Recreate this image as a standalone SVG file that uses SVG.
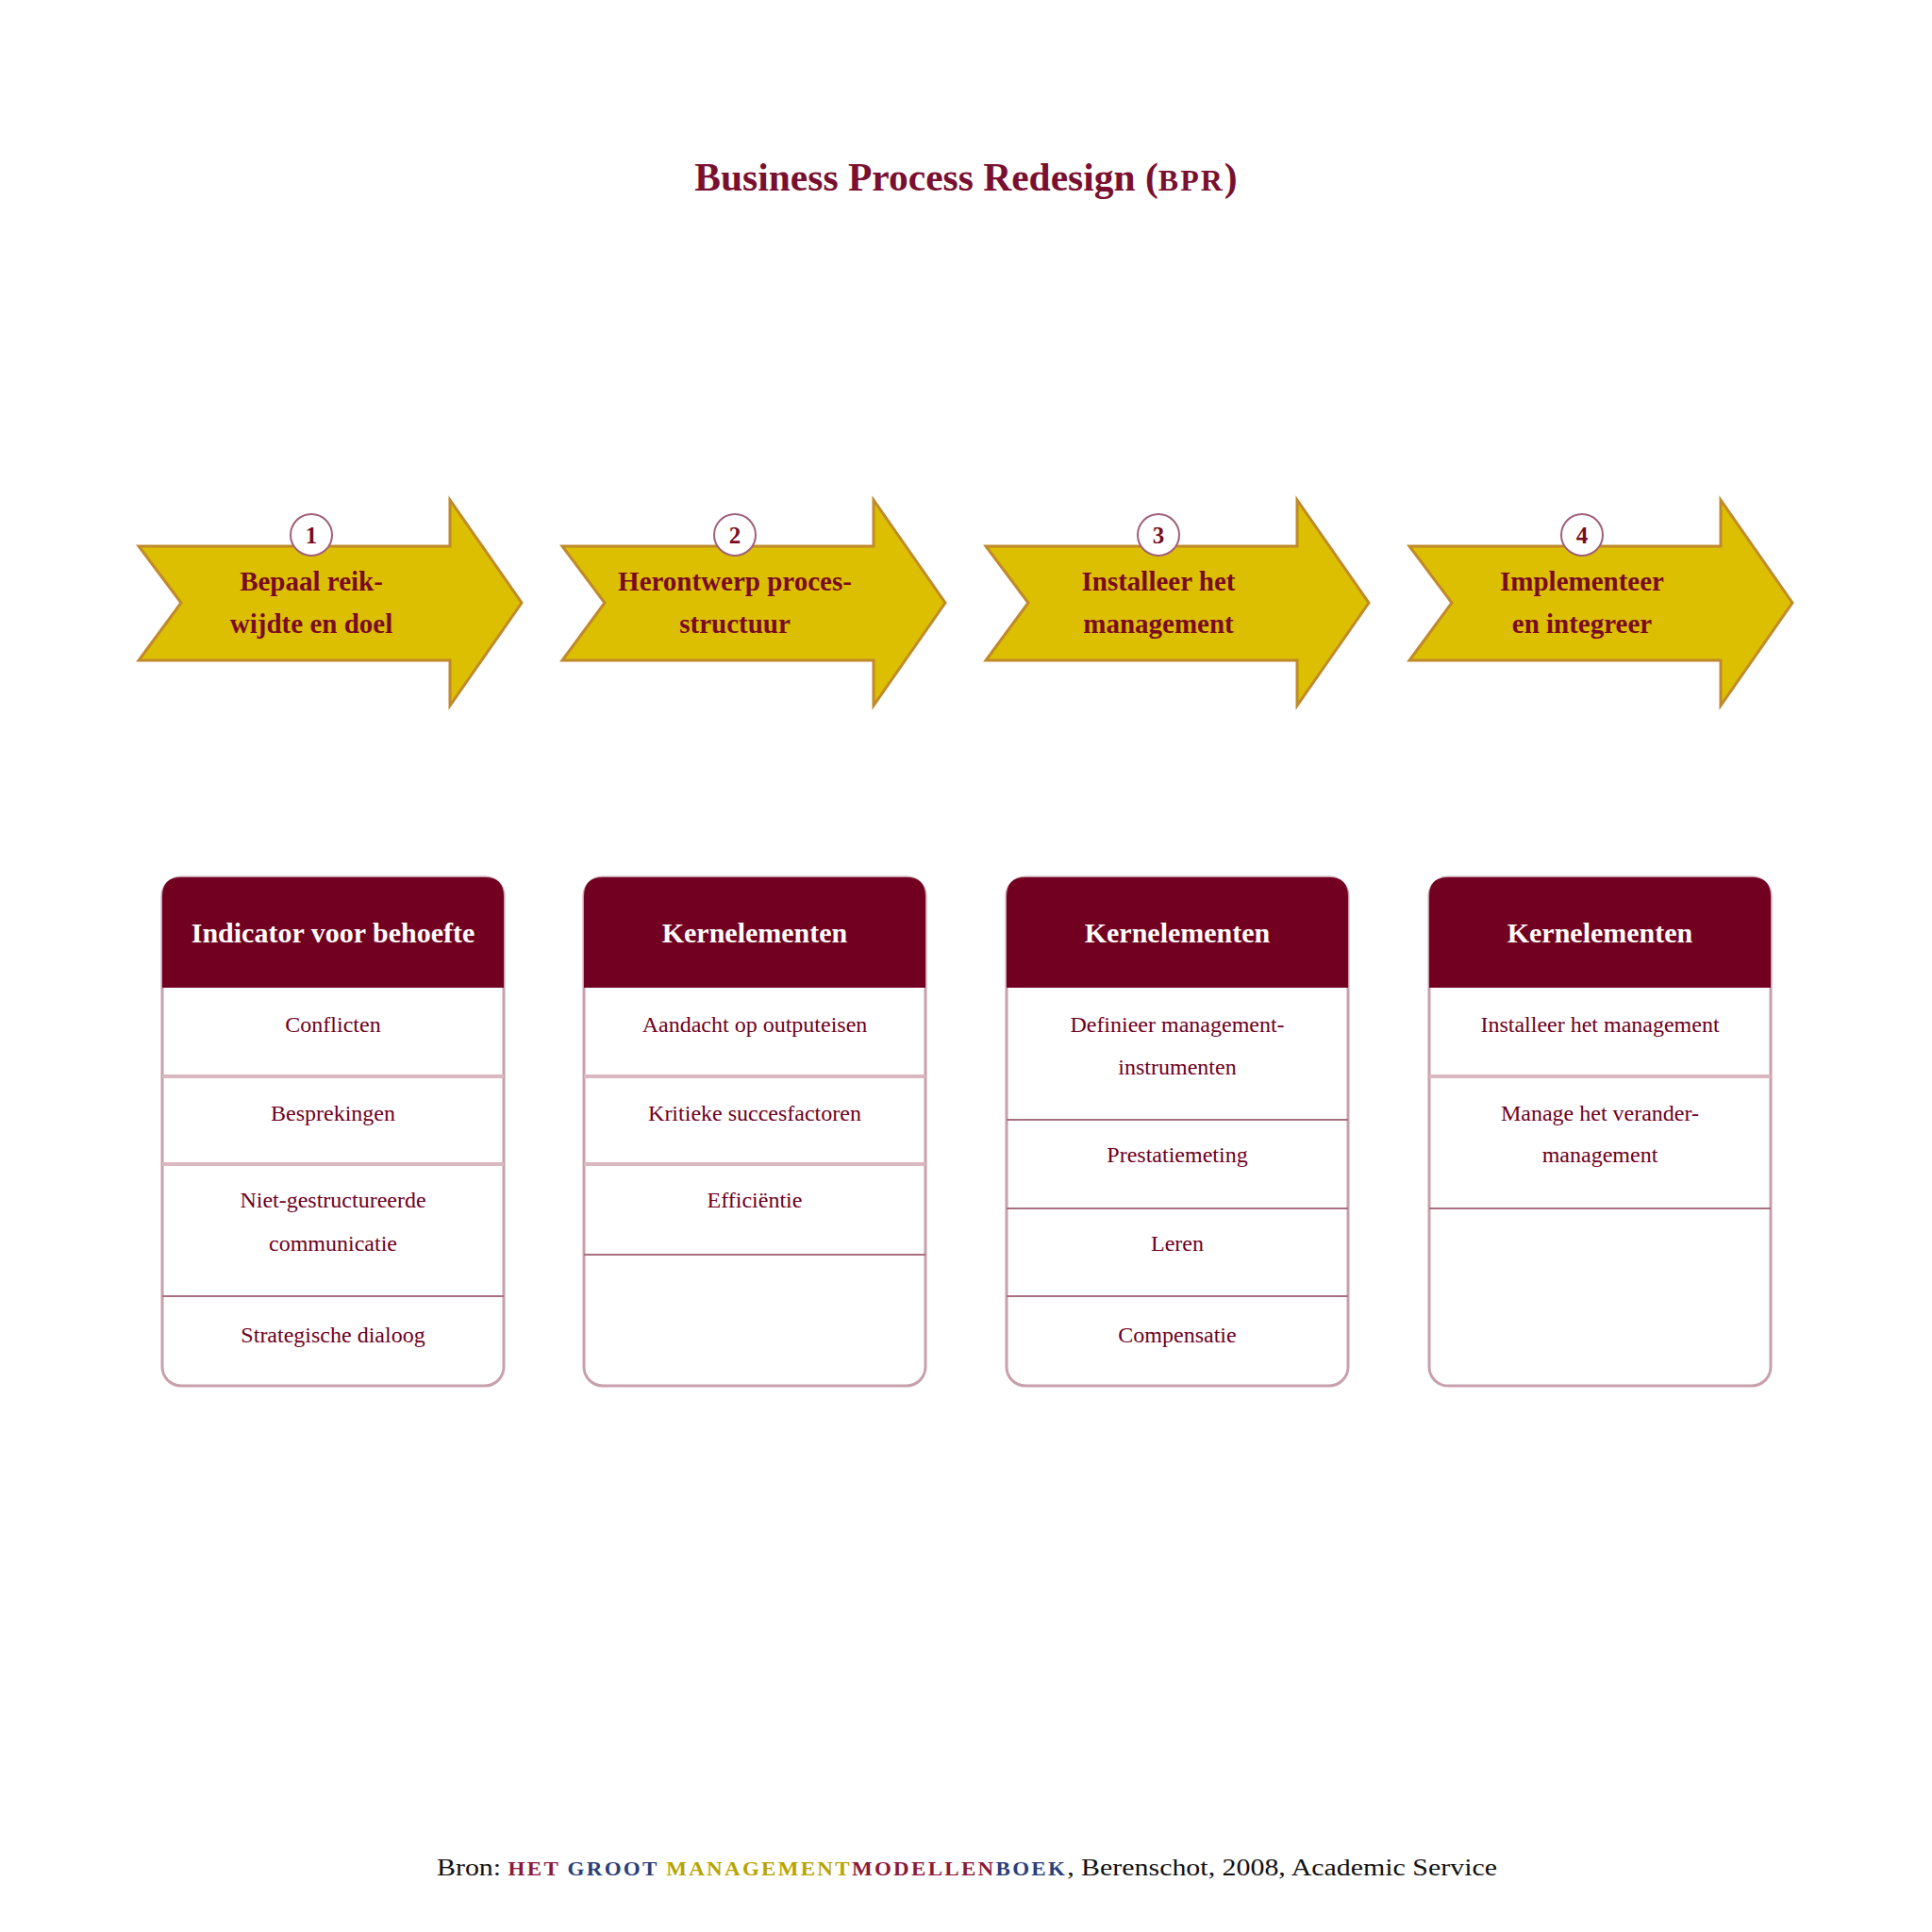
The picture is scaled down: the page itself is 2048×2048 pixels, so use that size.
<svg xmlns="http://www.w3.org/2000/svg" width="2048" height="2048" viewBox="0 0 2048 2048">
<style>
.title{font-family:"Liberation Serif",serif;font-weight:bold;font-size:41.5px;fill:#7a1030}
.arrow{fill:#dcbf00;stroke:#c08a2a;stroke-width:3;stroke-linejoin:miter}
.num-c{fill:#ffffff;stroke:#a0607a;stroke-width:2}
.num{font-family:"Liberation Serif",serif;font-weight:bold;font-size:25px;fill:#7a0a20;text-anchor:middle}
.atxt{font-family:"Liberation Serif",serif;font-weight:bold;font-size:29px;fill:#7a0a20;text-anchor:middle}
.card{fill:#ffffff;stroke:#c8a0ab;stroke-width:3}
.head{fill:#720020}
.htxt{font-family:"Liberation Serif",serif;font-weight:bold;font-size:30px;fill:#ffffff;text-anchor:middle}
.rtxt{font-family:"Liberation Serif",serif;font-size:24px;fill:#6e0020;text-anchor:middle}
.div-l{stroke:#d9b8c1;stroke-width:4}
.div-d{stroke:#a8707f;stroke-width:2}
.foot{font-family:"Liberation Serif",serif;font-size:26px;fill:#111111}
.sc{font-size:20px;letter-spacing:2px;font-weight:bold}
</style>
<rect width="2048" height="2048" fill="#ffffff"/>
<text class="title" x="1024" y="202" text-anchor="middle">Business Process Redesign (<tspan font-size="32" letter-spacing="2">BPR</tspan>)</text>

<g id="step1">
<path class="arrow" d="M147,579 L477,579 L477,530 L553,639 L477,748 L477,700 L147,700 L192,639 Z"/>
<circle class="num-c" cx="330" cy="567" r="22"/>
<text class="num" x="330" y="576">1</text>
<text class="atxt" x="330" y="626">Bepaal reik-</text>
<text class="atxt" x="330" y="671">wijdte en doel</text>
</g>
<g id="step2" transform="translate(449,0)">
<path class="arrow" d="M147,579 L477,579 L477,530 L553,639 L477,748 L477,700 L147,700 L192,639 Z"/>
<circle class="num-c" cx="330" cy="567" r="22"/>
<text class="num" x="330" y="576">2</text>
<text class="atxt" x="330" y="626">Herontwerp proces-</text>
<text class="atxt" x="330" y="671">structuur</text>
</g>
<g id="step3" transform="translate(898,0)">
<path class="arrow" d="M147,579 L477,579 L477,530 L553,639 L477,748 L477,700 L147,700 L192,639 Z"/>
<circle class="num-c" cx="330" cy="567" r="22"/>
<text class="num" x="330" y="576">3</text>
<text class="atxt" x="330" y="626">Installeer het</text>
<text class="atxt" x="330" y="671">management</text>
</g>
<g id="step4" transform="translate(1347,0)">
<path class="arrow" d="M147,579 L477,579 L477,530 L553,639 L477,748 L477,700 L147,700 L192,639 Z"/>
<circle class="num-c" cx="330" cy="567" r="22"/>
<text class="num" x="330" y="576">4</text>
<text class="atxt" x="330" y="626">Implementeer</text>
<text class="atxt" x="330" y="671">en integreer</text>
</g>

<g id="card1">
<rect class="card" x="172" y="930" width="362" height="539" rx="20"/>
<path class="head" d="M172,1047 L172,950 Q172,930 192,930 L514,930 Q534,930 534,950 L534,1047 Z"/>
<text class="htxt" x="353" y="999">Indicator voor behoefte</text>
<line class="div-l" x1="172" y1="1141" x2="534" y2="1141"/>
<line class="div-l" x1="172" y1="1234" x2="534" y2="1234"/>
<line class="div-d" x1="172" y1="1374" x2="534" y2="1374"/>
<text class="rtxt" x="353" y="1094">Conflicten</text>
<text class="rtxt" x="353" y="1188">Besprekingen</text>
<text class="rtxt" x="353" y="1280">Niet-gestructureerde</text>
<text class="rtxt" x="353" y="1326">communicatie</text>
<text class="rtxt" x="353" y="1423">Strategische dialoog</text>
</g>
<g id="card2">
<rect class="card" x="619" y="930" width="362" height="539" rx="20"/>
<path class="head" d="M619,1047 L619,950 Q619,930 639,930 L961,930 Q981,930 981,950 L981,1047 Z"/>
<text class="htxt" x="800" y="999">Kernelementen</text>
<line class="div-l" x1="619" y1="1141" x2="981" y2="1141"/>
<line class="div-l" x1="619" y1="1234" x2="981" y2="1234"/>
<line class="div-d" x1="619" y1="1330" x2="981" y2="1330"/>
<text class="rtxt" x="800" y="1094">Aandacht op outputeisen</text>
<text class="rtxt" x="800" y="1188">Kritieke succesfactoren</text>
<text class="rtxt" x="800" y="1280">Efficiëntie</text>
</g>
<g id="card3">
<rect class="card" x="1067" y="930" width="362" height="539" rx="20"/>
<path class="head" d="M1067,1047 L1067,950 Q1067,930 1087,930 L1409,930 Q1429,930 1429,950 L1429,1047 Z"/>
<text class="htxt" x="1248" y="999">Kernelementen</text>
<line class="div-d" x1="1067" y1="1187" x2="1429" y2="1187"/>
<line class="div-d" x1="1067" y1="1281" x2="1429" y2="1281"/>
<line class="div-d" x1="1067" y1="1374" x2="1429" y2="1374"/>
<text class="rtxt" x="1248" y="1094">Definieer management-</text>
<text class="rtxt" x="1248" y="1139">instrumenten</text>
<text class="rtxt" x="1248" y="1232">Prestatiemeting</text>
<text class="rtxt" x="1248" y="1326">Leren</text>
<text class="rtxt" x="1248" y="1423">Compensatie</text>
</g>
<g id="card4">
<rect class="card" x="1515" y="930" width="362" height="539" rx="20"/>
<path class="head" d="M1515,1047 L1515,950 Q1515,930 1535,930 L1857,930 Q1877,930 1877,950 L1877,1047 Z"/>
<text class="htxt" x="1696" y="999">Kernelementen</text>
<line class="div-l" x1="1515" y1="1141" x2="1877" y2="1141"/>
<line class="div-d" x1="1515" y1="1281" x2="1877" y2="1281"/>
<text class="rtxt" x="1696" y="1094">Installeer het management</text>
<text class="rtxt" x="1696" y="1188">Manage het verander-</text>
<text class="rtxt" x="1696" y="1232">management</text>
</g>

<text class="foot" x="463" y="1988" textLength="1124" lengthAdjust="spacingAndGlyphs">Bron: <tspan class="sc" fill="#8b1a3a">HET</tspan> <tspan class="sc" fill="#2a3f7a">GROOT</tspan> <tspan class="sc" fill="#b8a400">MANAGEMENT</tspan><tspan class="sc" fill="#8b1a3a">MODELLEN</tspan><tspan class="sc" fill="#2a3f7a">BOEK</tspan>, Berenschot, 2008, Academic Service</text>
</svg>
